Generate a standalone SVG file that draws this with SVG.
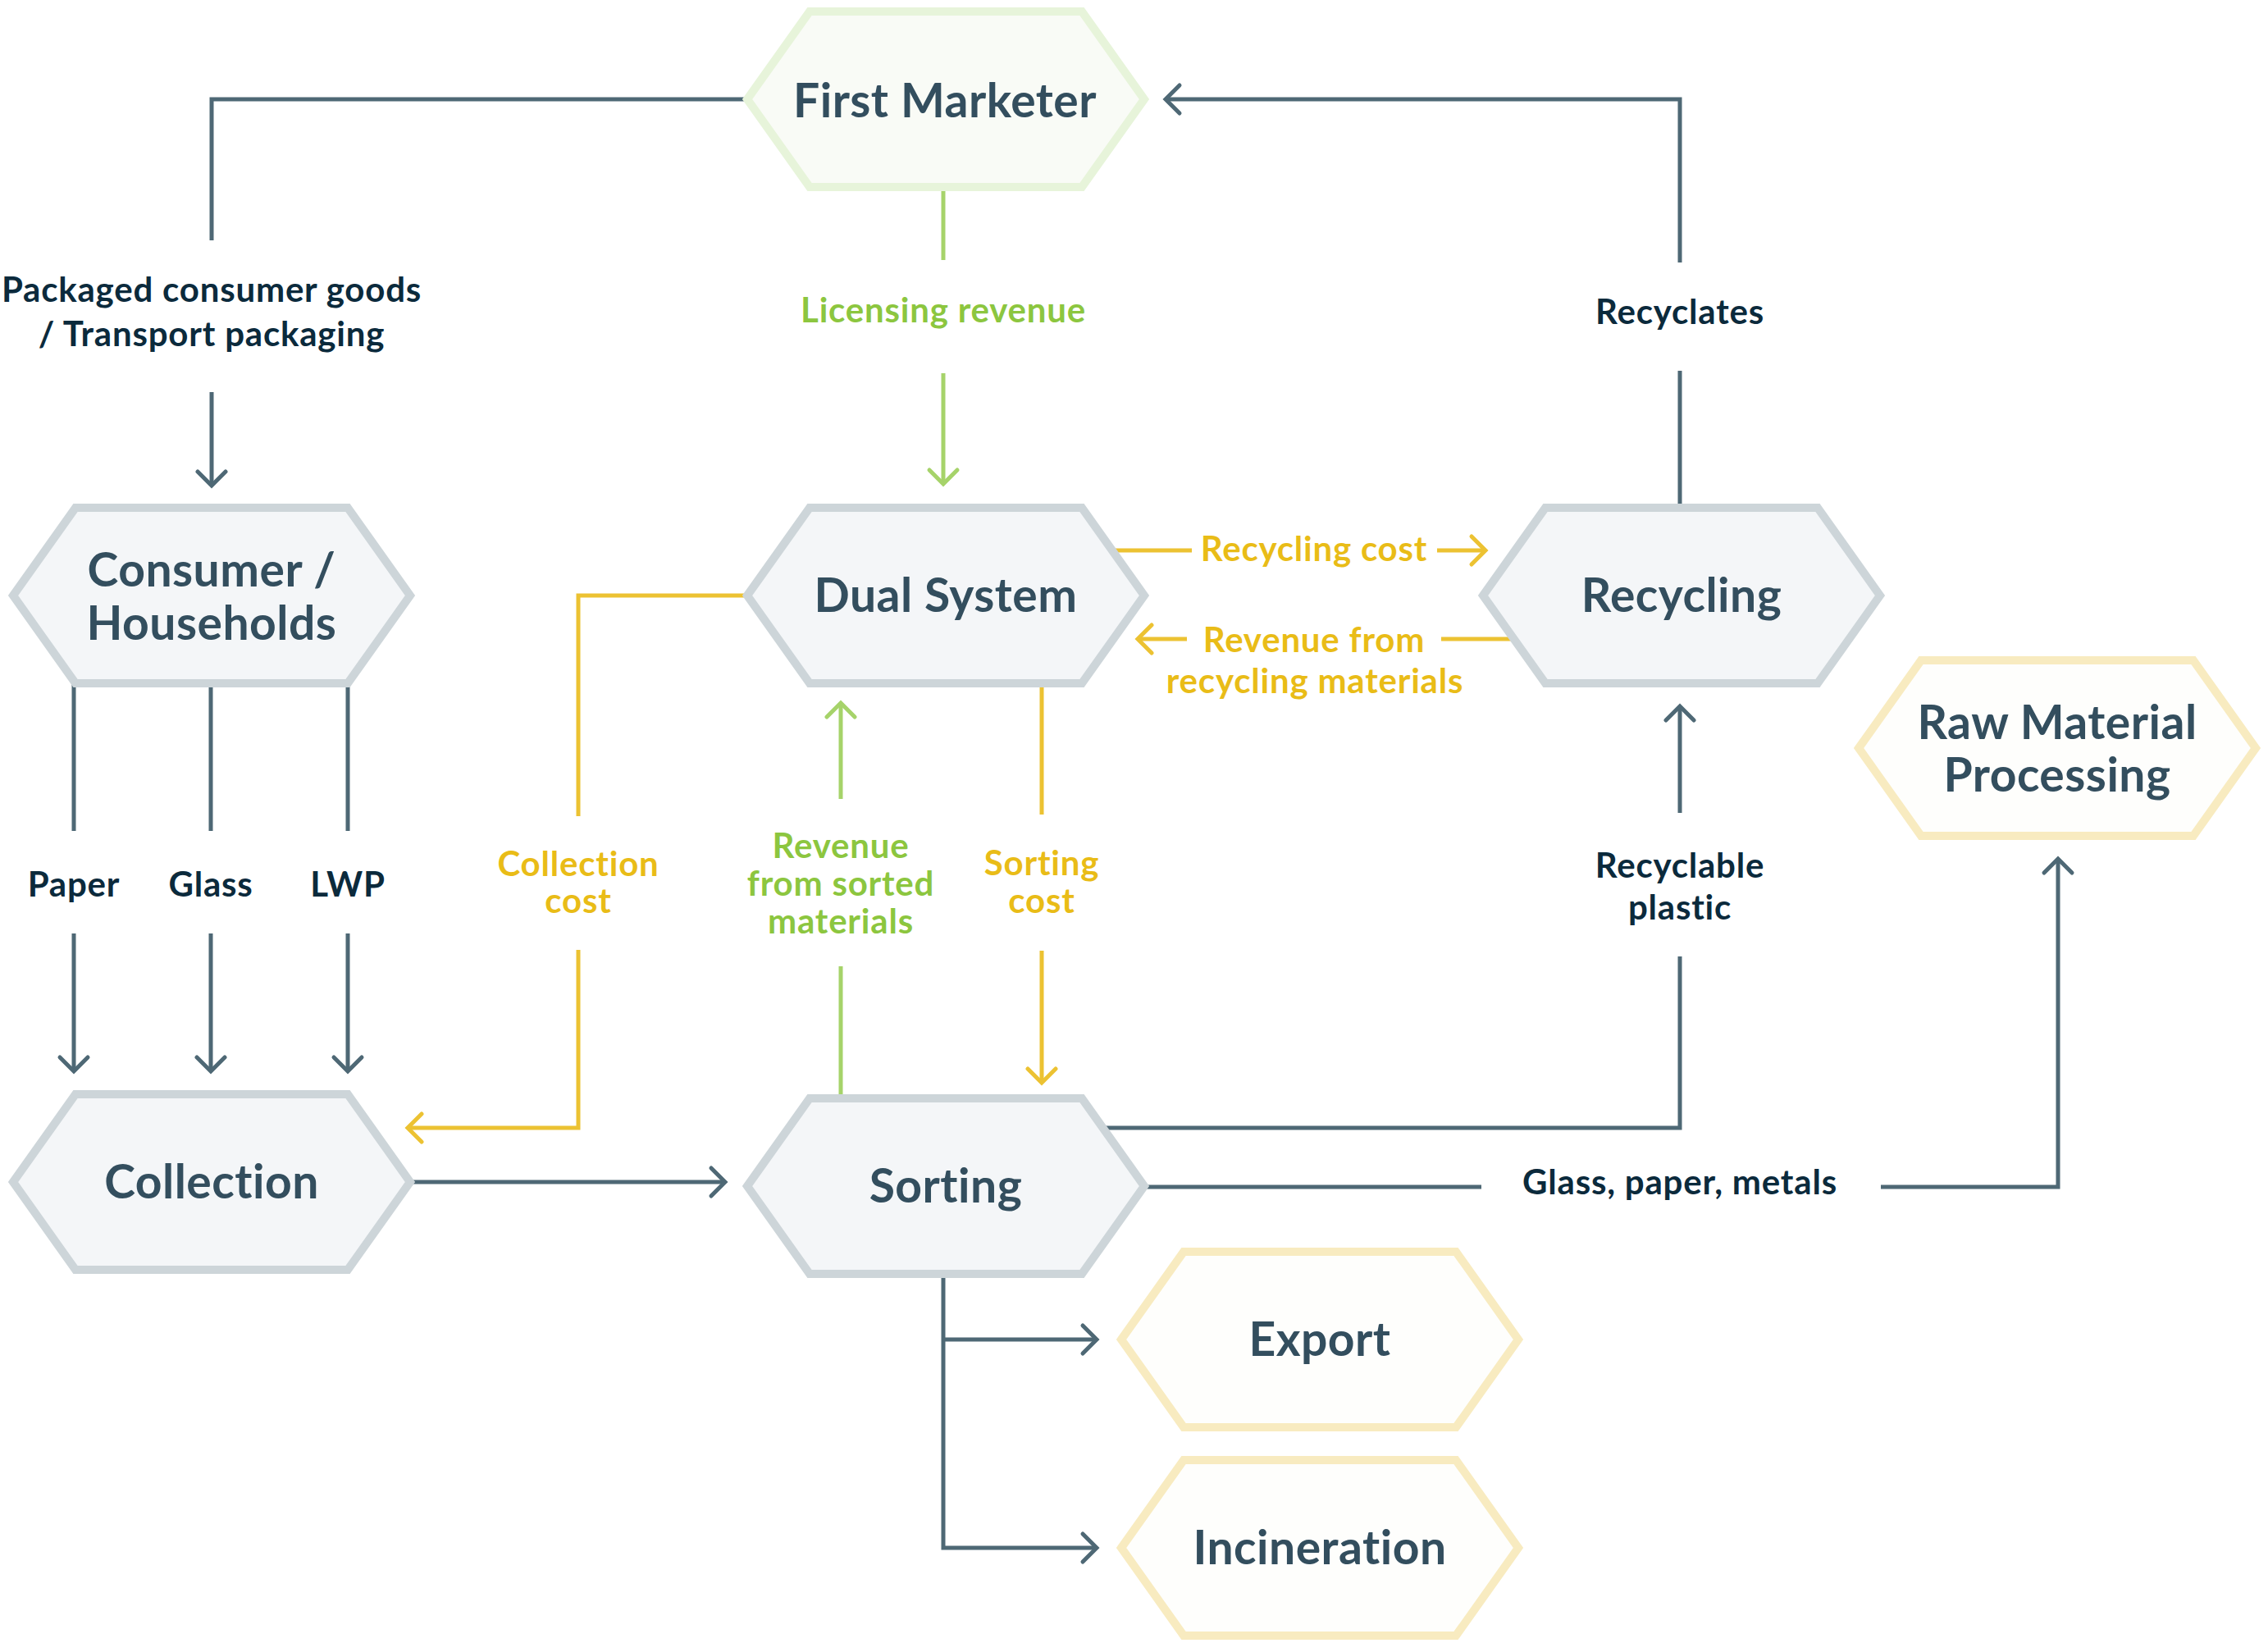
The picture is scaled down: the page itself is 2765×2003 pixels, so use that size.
<svg xmlns="http://www.w3.org/2000/svg" width="2765" height="2003" viewBox="0 0 2765 2003">
<style>
.hg{fill:#F4F6F8;stroke:#CDD5D9;stroke-width:10}
.hgr{fill:#F9FBF6;stroke:#E7F4DA;stroke-width:10}
.hy{fill:#FEFEFC;stroke:#F8EBC0;stroke-width:10}
.nt{font-family:Lato,"Open Sans","Liberation Sans",sans-serif;font-weight:700;font-size:57px;letter-spacing:0.5px;fill:#334E5E;text-anchor:middle}
.lt{font-family:Lato,"Open Sans","Liberation Sans",sans-serif;font-weight:700;font-size:42px;letter-spacing:0.8px;text-anchor:middle}
.dk{fill:#0B2A3C}
.gtx{fill:#8CC63F}
.ytx{fill:#E9BC17}
.cg{fill:none;stroke:#4E6875;stroke-width:5}
.cgr{fill:none;stroke:#A6D36A;stroke-width:5}
.cy{fill:none;stroke:#ECC232;stroke-width:5}
</style>
<defs>
<polygon id="hex" points="-242,0 -166,-107 166,-107 242,0 166,107 -166,107"/>
<marker id="ag" markerUnits="userSpaceOnUse" viewBox="-24 -24 30 48" markerWidth="30" markerHeight="48" refX="0" refY="0" orient="auto" overflow="visible">
<path d="M-17,-17 L0,0 L-17,17" fill="none" stroke="#4E6875" stroke-width="5" stroke-linecap="round"/>
</marker>
<marker id="agr" markerUnits="userSpaceOnUse" viewBox="-24 -24 30 48" markerWidth="30" markerHeight="48" refX="0" refY="0" orient="auto" overflow="visible">
<path d="M-17,-17 L0,0 L-17,17" fill="none" stroke="#A6D36A" stroke-width="5" stroke-linecap="round"/>
</marker>
<marker id="ay" markerUnits="userSpaceOnUse" viewBox="-24 -24 30 48" markerWidth="30" markerHeight="48" refX="0" refY="0" orient="auto" overflow="visible">
<path d="M-17,-17 L0,0 L-17,17" fill="none" stroke="#ECC232" stroke-width="5" stroke-linecap="round"/>
</marker>
</defs>
<rect width="2765" height="2003" fill="#FFFFFF"/>
<g id="connectors">
<g id="c-packaged">
<path class="cg" d="M910,121 H258 V293"/>
<path class="cg" d="M258,478 V592" marker-end="url(#ag)"/>
<text class="lt dk"><tspan x="258" y="368">Packaged consumer goods</tspan><tspan x="258" y="422">/ Transport packaging</tspan></text>
</g>
<g id="c-licensing">
<path class="cgr" d="M1150,226 V317"/>
<path class="cgr" d="M1150,455 V590" marker-end="url(#agr)"/>
<text class="lt gtx" x="1150" y="393">Licensing revenue</text>
</g>
<g id="c-recyclates">
<path class="cg" d="M2048,620 V452"/>
<path class="cg" d="M2048,320 V121 H1421" marker-end="url(#ag)"/>
<text class="lt dk" x="2048" y="395">Recyclates</text>
</g>
<g id="c-recycling-cost">
<path class="cy" d="M1340,671 H1453"/>
<path class="cy" d="M1752,671 H1811" marker-end="url(#ay)"/>
<text class="lt ytx" x="1602" y="684">Recycling cost</text>
</g>
<g id="c-revenue-recycling">
<path class="cy" d="M1862,779 H1757"/>
<path class="cy" d="M1447,779 H1387" marker-end="url(#ay)"/>
<text class="lt ytx"><tspan x="1602" y="795">Revenue from</tspan><tspan x="1603" y="845">recycling materials</tspan></text>
</g>
<g id="c-paper">
<path class="cg" d="M90,830 V1013"/>
<path class="cg" d="M90,1138 V1306" marker-end="url(#ag)"/>
<text class="lt dk" x="90" y="1093">Paper</text>
</g>
<g id="c-glass">
<path class="cg" d="M257,830 V1013"/>
<path class="cg" d="M257,1138 V1306" marker-end="url(#ag)"/>
<text class="lt dk" x="257" y="1093">Glass</text>
</g>
<g id="c-lwp">
<path class="cg" d="M424,830 V1013"/>
<path class="cg" d="M424,1138 V1306" marker-end="url(#ag)"/>
<text class="lt dk" x="424" y="1093">LWP</text>
</g>
<g id="c-collection-cost">
<path class="cy" d="M915,726 H705 V995"/>
<path class="cy" d="M705,1158 V1375 H497" marker-end="url(#ay)"/>
<text class="lt ytx"><tspan x="705" y="1068">Collection</tspan><tspan x="705" y="1113">cost</tspan></text>
</g>
<g id="c-revenue-sorted">
<path class="cgr" d="M1025,1342 V1178"/>
<path class="cgr" d="M1025,974 V857" marker-end="url(#agr)"/>
<text class="lt gtx"><tspan x="1025" y="1046">Revenue</tspan><tspan x="1025" y="1092">from sorted</tspan><tspan x="1025" y="1138">materials</tspan></text>
</g>
<g id="c-sorting-cost">
<path class="cy" d="M1270,828 V993"/>
<path class="cy" d="M1270,1159 V1320" marker-end="url(#ay)"/>
<text class="lt ytx"><tspan x="1270" y="1067">Sorting</tspan><tspan x="1270" y="1113">cost</tspan></text>
</g>
<g id="c-collection-sorting">
<path class="cg" d="M495,1441 H884" marker-end="url(#ag)"/>
</g>
<g id="c-recyclable-plastic">
<path class="cg" d="M1340,1375 H2048 V1166"/>
<path class="cg" d="M2048,991 V861" marker-end="url(#ag)"/>
<text class="lt dk"><tspan x="2048" y="1070">Recyclable</tspan><tspan x="2048" y="1121">plastic</tspan></text>
</g>
<g id="c-glass-paper-metals">
<path class="cg" d="M1390,1447 H1806"/>
<path class="cg" d="M2293,1447 H2509 V1047" marker-end="url(#ag)"/>
<text class="lt dk" x="2048" y="1456">Glass, paper, metals</text>
</g>
<g id="c-export-incineration">
<path class="cg" d="M1150,1550 V1887 H1337" marker-end="url(#ag)"/>
<path class="cg" d="M1150,1633 H1337" marker-end="url(#ag)"/>
</g>
</g>
<g id="n-first-marketer">
<use href="#hex" class="hgr" x="1153" y="121"/>
<text class="nt" x="1152" y="143">First Marketer</text>
</g>
<g id="n-consumer">
<use href="#hex" class="hg" x="258" y="726"/>
<text class="nt"><tspan x="258" y="715">Consumer /</tspan><tspan x="258" y="780">Households</tspan></text>
</g>
<g id="n-dual-system">
<use href="#hex" class="hg" x="1153" y="726"/>
<text class="nt" x="1153" y="746">Dual System</text>
</g>
<g id="n-recycling">
<use href="#hex" class="hg" x="2050" y="726"/>
<text class="nt" x="2050" y="746">Recycling</text>
</g>
<g id="n-raw-material">
<use href="#hex" class="hy" x="2508" y="912"/>
<text class="nt"><tspan x="2508" y="901">Raw Material</tspan><tspan x="2508" y="965">Processing</tspan></text>
</g>
<g id="n-collection">
<use href="#hex" class="hg" x="258" y="1441"/>
<text class="nt" x="258" y="1461">Collection</text>
</g>
<g id="n-sorting">
<use href="#hex" class="hg" x="1153" y="1446"/>
<text class="nt" x="1153" y="1466">Sorting</text>
</g>
<g id="n-export">
<use href="#hex" class="hy" x="1609" y="1633"/>
<text class="nt" x="1609" y="1653">Export</text>
</g>
<g id="n-incineration">
<use href="#hex" class="hy" x="1609" y="1887"/>
<text class="nt" x="1609" y="1907">Incineration</text>
</g>
</svg>
